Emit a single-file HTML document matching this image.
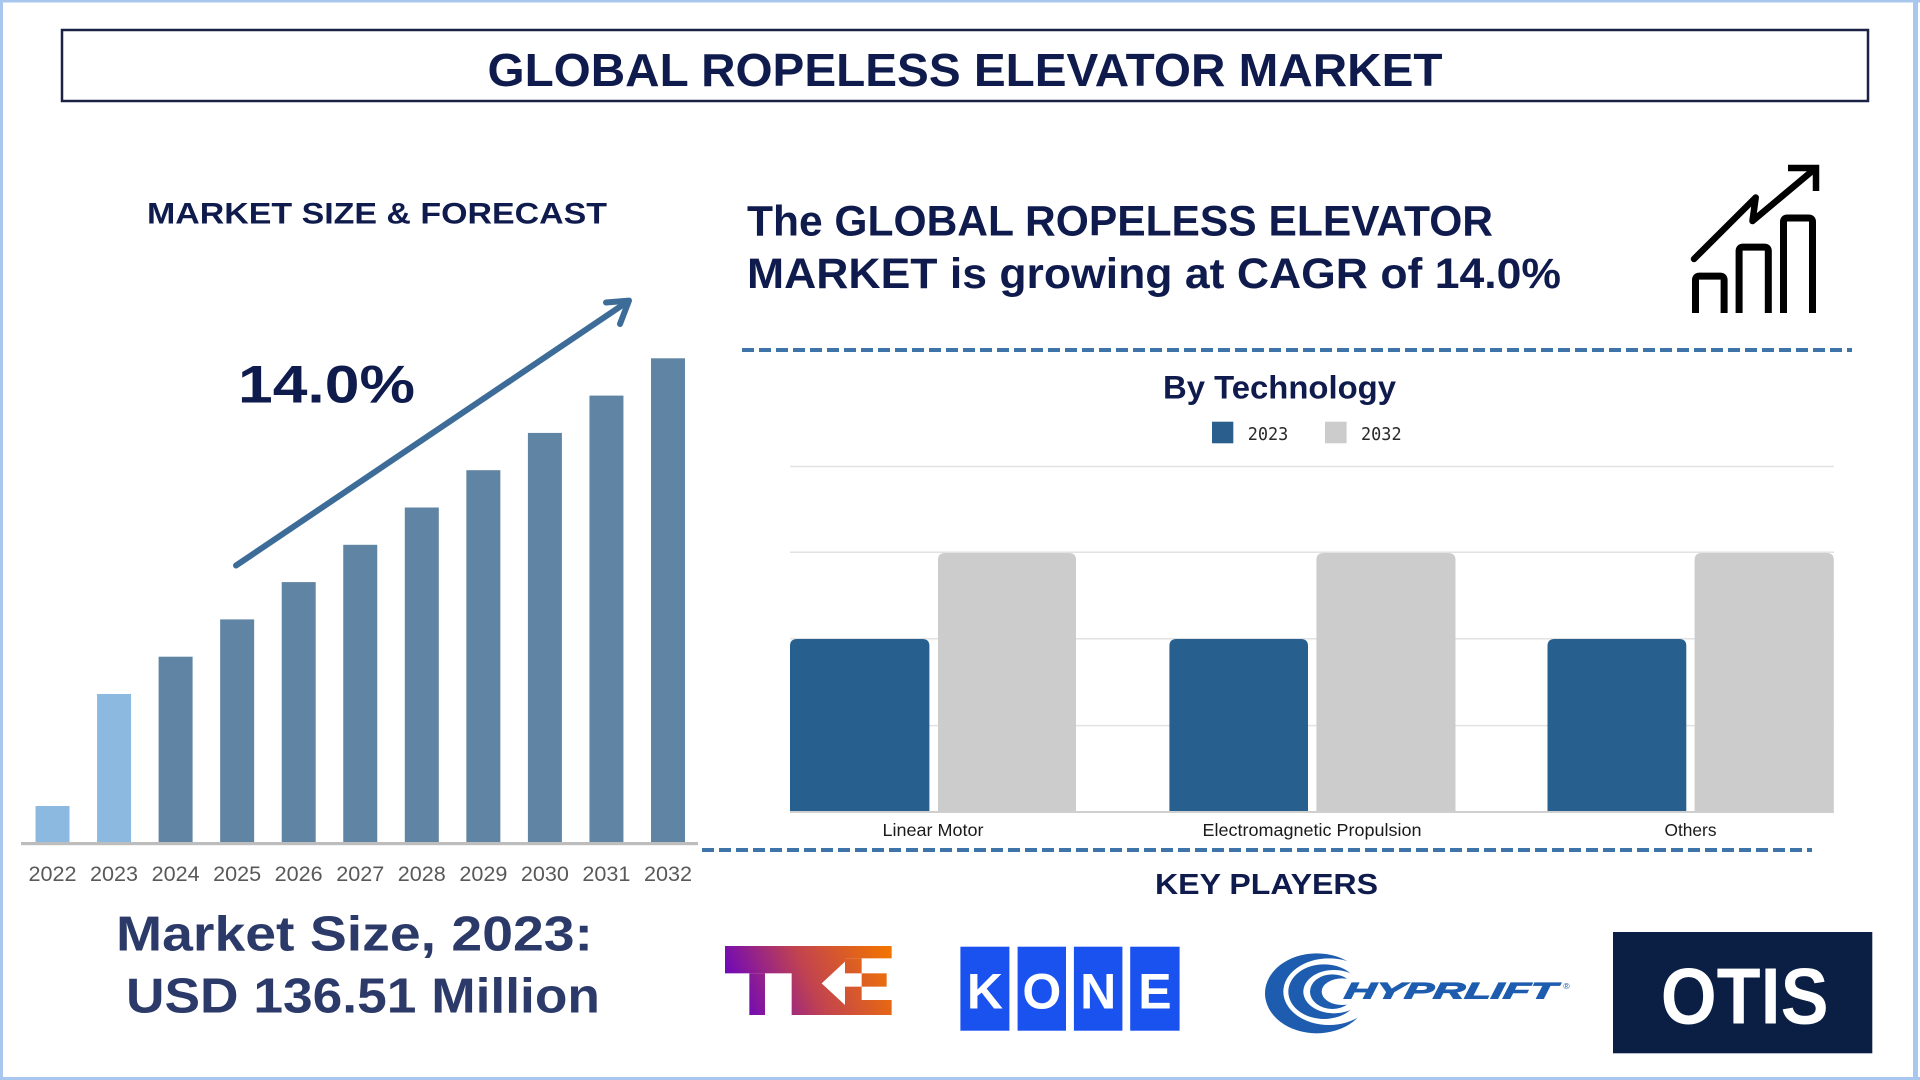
<!DOCTYPE html>
<html>
<head>
<meta charset="utf-8">
<style>
  html,body{margin:0;padding:0;background:#fff;}
  body{width:1920px;height:1080px;overflow:hidden;}
  svg{display:block;}
  text{font-family:"Liberation Sans", Arial, sans-serif;}
</style>
</head>
<body>
<svg width="1920" height="1080" viewBox="0 0 1920 1080" xmlns="http://www.w3.org/2000/svg">
  <defs>
    <linearGradient id="tke" gradientUnits="userSpaceOnUse" x1="40" y1="225" x2="500" y2="18">
      <stop offset="0" stop-color="#6400c8"/>
      <stop offset="0.5" stop-color="#c2434f"/>
      <stop offset="1" stop-color="#f27400"/>
    </linearGradient>
  </defs>
  <rect x="0" y="0" width="1920" height="1080" fill="#ffffff"/>
  <!-- outer light blue frame -->
  <rect x="0" y="0" width="3" height="1080" fill="#a9c7ee"/>
  <rect x="0" y="0" width="1920" height="2.5" fill="#a9c7ee"/>
  <rect x="0" y="1077" width="1920" height="3" fill="#a9c7ee"/>
  <rect x="1913" y="0" width="5" height="1080" fill="#a9c7ee"/>

  <!-- title box -->
  <rect x="62" y="30" width="1806" height="71" fill="none" stroke="#1b2245" stroke-width="2.5"/>
  <text x="965" y="86" text-anchor="middle" font-size="46" font-weight="bold" fill="#0f1b4c" textLength="955" lengthAdjust="spacingAndGlyphs">GLOBAL ROPELESS ELEVATOR MARKET</text>

  <!-- left: market size & forecast -->
  <text x="377" y="223.5" text-anchor="middle" font-size="30" font-weight="bold" fill="#0f1b4c" textLength="460" lengthAdjust="spacingAndGlyphs">MARKET SIZE &amp; FORECAST</text>
  <text x="326.5" y="402.5" text-anchor="middle" font-size="53" font-weight="bold" fill="#0f1b4c" textLength="177" lengthAdjust="spacingAndGlyphs">14.0%</text>

  <!-- bars -->
  <g>
    <rect x="35.5" y="806" width="34" height="36" fill="#8cb9e0"/>
    <rect x="97.05" y="694" width="34" height="148" fill="#8cb9e0"/>
    <rect x="158.6" y="656.7" width="34" height="185.3" fill="#6084a3"/>
    <rect x="220.15" y="619.4" width="34" height="222.6" fill="#6084a3"/>
    <rect x="281.7" y="582.1" width="34" height="259.9" fill="#6084a3"/>
    <rect x="343.25" y="544.8" width="34" height="297.2" fill="#6084a3"/>
    <rect x="404.8" y="507.5" width="34" height="334.5" fill="#6084a3"/>
    <rect x="466.35" y="470.2" width="34" height="371.8" fill="#6084a3"/>
    <rect x="527.9" y="432.9" width="34" height="409.1" fill="#6084a3"/>
    <rect x="589.45" y="395.6" width="34" height="446.4" fill="#6084a3"/>
    <rect x="651" y="358.3" width="34" height="483.7" fill="#6084a3"/>
  </g>
  <rect x="21" y="842" width="677" height="3.2" fill="#bdbdbd"/>

  <!-- growth arrow -->
  <g stroke="#3d6c98" stroke-width="6" stroke-linecap="round" fill="none">
    <line x1="236" y1="565.5" x2="627" y2="302"/>
    <polyline points="606,302.5 629,300.6 620,324" stroke-linejoin="round"/>
  </g>

  <!-- year labels -->
  <g font-size="21" fill="#595959" text-anchor="middle">
    <text x="52.5" y="881" textLength="48" lengthAdjust="spacingAndGlyphs">2022</text>
    <text x="114.05" y="881" textLength="48" lengthAdjust="spacingAndGlyphs">2023</text>
    <text x="175.6" y="881" textLength="48" lengthAdjust="spacingAndGlyphs">2024</text>
    <text x="237.15" y="881" textLength="48" lengthAdjust="spacingAndGlyphs">2025</text>
    <text x="298.7" y="881" textLength="48" lengthAdjust="spacingAndGlyphs">2026</text>
    <text x="360.25" y="881" textLength="48" lengthAdjust="spacingAndGlyphs">2027</text>
    <text x="421.8" y="881" textLength="48" lengthAdjust="spacingAndGlyphs">2028</text>
    <text x="483.35" y="881" textLength="48" lengthAdjust="spacingAndGlyphs">2029</text>
    <text x="544.9" y="881" textLength="48" lengthAdjust="spacingAndGlyphs">2030</text>
    <text x="606.45" y="881" textLength="48" lengthAdjust="spacingAndGlyphs">2031</text>
    <text x="668" y="881" textLength="48" lengthAdjust="spacingAndGlyphs">2032</text>
  </g>

  <!-- market size text -->
  <text x="116" y="950.7" font-size="49" font-weight="bold" fill="#2b3a69" textLength="477" lengthAdjust="spacingAndGlyphs">Market Size, 2023:</text>
  <text x="126" y="1012.3" font-size="49" font-weight="bold" fill="#2b3a69" textLength="474" lengthAdjust="spacingAndGlyphs">USD 136.51 Million</text>

  <!-- right headline -->
  <text x="747" y="235.7" font-size="42.5" font-weight="bold" fill="#0f1b4c" textLength="746" lengthAdjust="spacingAndGlyphs">The GLOBAL ROPELESS ELEVATOR</text>
  <text x="747" y="288" font-size="42.5" font-weight="bold" fill="#0f1b4c" textLength="814" lengthAdjust="spacingAndGlyphs">MARKET is growing at CAGR of 14.0%</text>

  <!-- growth icon -->
  <g stroke="#000" stroke-width="7" fill="none" stroke-linejoin="round">
    <path d="M1695.5,313 V280 Q1695.5,276.1 1699.5,276.1 H1720.1 Q1724.1,276.1 1724.1,280 V313"/>
    <path d="M1739.1,313 V251 Q1739.1,247.1 1743.1,247.1 H1764.3 Q1768.3,247.1 1768.3,251 V313"/>
    <path d="M1783.5,313 V222 Q1783.5,218 1787.5,218 H1808.5 Q1812.5,218 1812.5,222 V313"/>
    <polyline points="1694,259 1755.7,197.5 1752.5,221 1814,169.5" stroke-linecap="round" stroke-width="6.5"/>
    <polyline points="1788,168 1816,168 1816,191" stroke-linejoin="miter" stroke-width="6.5"/>
  </g>

  <!-- dashed separator 1 -->
  <line x1="742" y1="350" x2="1852" y2="350" stroke="#3f74a8" stroke-width="4" stroke-dasharray="12 5"/>

  <!-- by technology chart -->
  <text x="1279.5" y="398.3" text-anchor="middle" font-size="32" font-weight="bold" fill="#0f1b4c" textLength="233" lengthAdjust="spacingAndGlyphs">By Technology</text>
  <rect x="1212" y="421.7" width="21.3" height="21.6" fill="#2a5f8d"/>
  <text x="1247.7" y="440" font-size="17.5" fill="#2a2a2a" style="font-family:'DejaVu Sans Mono','Liberation Mono',monospace" textLength="40.6" lengthAdjust="spacingAndGlyphs">2023</text>
  <rect x="1325" y="421.7" width="21.6" height="21.6" fill="#cccccc"/>
  <text x="1361" y="440" font-size="17.5" fill="#2a2a2a" style="font-family:'DejaVu Sans Mono','Liberation Mono',monospace" textLength="40.6" lengthAdjust="spacingAndGlyphs">2032</text>

  <g stroke="#e2e2e2" stroke-width="1.5">
    <line x1="790" y1="466.5" x2="1834" y2="466.5"/>
    <line x1="790" y1="552.3" x2="1834" y2="552.3"/>
    <line x1="790" y1="638.7" x2="1834" y2="638.7"/>
    <line x1="790" y1="725.6" x2="1834" y2="725.6"/>
  </g>

  <g fill="#27608f">
    <path d="M790,812 V646 Q790,639 797,639 H922.4 Q929.4,639 929.4,646 V812 Z"/>
    <path d="M1169.4,812 V646 Q1169.4,639 1176.4,639 H1301 Q1308,639 1308,646 V812 Z"/>
    <path d="M1547.5,812 V646 Q1547.5,639 1554.5,639 H1679.3 Q1686.3,639 1686.3,646 V812 Z"/>
  </g>
  <g fill="#cccccc">
    <path d="M938,812 V560 Q938,553 945,553 H1069 Q1076,553 1076,560 V812 Z"/>
    <path d="M1316.4,812 V560 Q1316.4,553 1323.4,553 H1448.5 Q1455.5,553 1455.5,560 V812 Z"/>
    <path d="M1694.6,812 V560 Q1694.6,553 1701.6,553 H1826.8 Q1833.8,553 1833.8,560 V812 Z"/>
  </g>
  <line x1="790" y1="812" x2="1834" y2="812" stroke="#cfcfcf" stroke-width="2"/>

  <g font-size="17.5" fill="#1a1a1a" text-anchor="middle">
    <text x="933" y="836" textLength="101" lengthAdjust="spacingAndGlyphs">Linear Motor</text>
    <text x="1312" y="836" textLength="219" lengthAdjust="spacingAndGlyphs">Electromagnetic Propulsion</text>
    <text x="1690.5" y="836" textLength="52" lengthAdjust="spacingAndGlyphs">Others</text>
  </g>

  <!-- dashed separator 2 -->
  <line x1="702" y1="850" x2="1812" y2="850" stroke="#3f74a8" stroke-width="4" stroke-dasharray="12 5"/>

  <text x="1266.5" y="894" text-anchor="middle" font-size="29" font-weight="bold" fill="#0f1b4c" textLength="223" lengthAdjust="spacingAndGlyphs">KEY PLAYERS</text>

  <!-- TKE logo -->
  <g transform="translate(720,940) scale(0.3333)" fill="url(#tke)">
    <rect x="15" y="18" width="245" height="82"/>
    <rect x="88" y="100" width="47" height="125"/>
    <polygon points="215,18 375,18 375,65 305,130 375,195 375,225 215,225"/>
    <rect x="260" y="18" width="255" height="37"/>
    <rect x="375" y="55" width="50" height="45"/>
    <rect x="425" y="100" width="75" height="40"/>
    <rect x="375" y="140" width="50" height="40"/>
    <rect x="375" y="180" width="140" height="45"/>
  </g>

  <!-- KONE logo -->
  <g fill="#1a52f0">
    <rect x="960.4" y="946.7" width="49" height="84"/>
    <rect x="1017.6" y="946.7" width="48.4" height="84"/>
    <rect x="1073.9" y="946.7" width="48.5" height="84"/>
    <rect x="1130.2" y="946.7" width="49.4" height="84"/>
  </g>
  <g font-size="50" font-weight="bold" fill="#ffffff" text-anchor="middle">
    <text x="984.9" y="1008.3">K</text>
    <text x="1041.8" y="1008.3">O</text>
    <text x="1098.2" y="1008.3">N</text>
    <text x="1154.9" y="1008.3">E</text>
  </g>

  <!-- HYPRLIFT logo -->
  <g transform="translate(1255,945) scale(0.3333)">
    <ellipse cx="185" cy="145" rx="155" ry="120" fill="#1d5cae"/>
    <ellipse cx="222" cy="140" rx="137" ry="100" fill="#ffffff"/>
    <ellipse cx="207" cy="140" rx="107" ry="82" fill="#1d5cae"/>
    <ellipse cx="237" cy="140" rx="92" ry="65" fill="#ffffff"/>
    <ellipse cx="232" cy="140" rx="67" ry="52" fill="#1d5cae"/>
    <ellipse cx="262" cy="140" rx="62" ry="40" fill="#ffffff"/>
    <text x="268" y="160" font-size="68" font-weight="bold" font-style="italic" fill="#1d5cae" stroke="#1d5cae" stroke-width="3" textLength="636" lengthAdjust="spacingAndGlyphs" transform="skewX(-8) translate(20,0)">HYPRLIFT</text>
    <text x="925" y="132" font-size="26" fill="#1d5cae">®</text>
  </g>

  <!-- OTIS logo -->
  <rect x="1613" y="932" width="259.3" height="121.3" fill="#0b1f45"/>
  <text x="1744.7" y="1023.3" text-anchor="middle" font-size="80" font-weight="bold" fill="#ffffff" textLength="168" lengthAdjust="spacingAndGlyphs">OTIS</text>
</svg>
</body>
</html>
